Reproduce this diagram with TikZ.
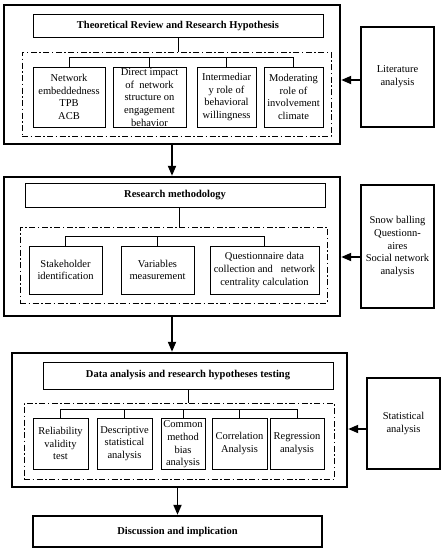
\documentclass[tikz,border=0pt]{standalone}
\usepackage{fontspec}
\setmainfont{Liberation Serif}
\usetikzlibrary{arrows.meta,calc}
\begin{document}
\begin{tikzpicture}[x=1pt,y=-1pt,
  every node/.style={font=\fontsize{10.5}{12.7}\selectfont, align=center, inner sep=0pt},
  outerbox/.style={draw, line width=2.4pt, minimum width=#1},
  titlebox/.style={draw, line width=0.8pt, font=\fontsize{10.5}{12.7}\selectfont\bfseries},
  subbox/.style={draw, line width=0.8pt},
  sidebox/.style={draw, line width=2.4pt, minimum width=73pt},
  ddbox/.style={draw, line width=0.8pt, dash pattern=on 6pt off 2.5pt on 1.5pt off 2.5pt},
  tree/.style={line width=0.8pt},
  arr/.style={line width=1.8pt, -{Triangle[length=10pt,width=8pt]}}
]
\useasboundingbox (0,0) rectangle (444,550);
% ---------- Block 1 ----------
\node[outerbox=336pt, minimum height=139pt] (b1) at (172,74.5) {};
\node[titlebox, minimum width=290pt, minimum height=23pt] (t1) at (178,25.5) {Theoretical Review and Research Hypothesis};
\node[ddbox, minimum width=309pt, minimum height=84pt] (d1) at (176.5,94) {};
\node[subbox, minimum width=72pt, minimum height=60pt] (s11) at (69,97) {Network\\embeddedness\\TPB\\ACB};
\node[subbox, minimum width=73pt, minimum height=60pt] (s12) at (149.5,97) {};
\node (s12t) at (149.5,97.5) {Direct impact\\of\ \ network\\structure on\\engagement\\behavior};
\node[subbox, minimum width=59pt, minimum height=60pt] (s13) at (226.5,97) {Intermediar\\y role of\\behavioral\\willingness};
\node[subbox, minimum width=59pt, minimum height=60pt] (s14) at (293.5,97) {Moderating\\role of\\involvement\\climate};
\coordinate (bar1) at (0,57);
\draw[tree] (t1.south) -- (t1.south |- d1.north);
\draw[tree] (s11.north |- bar1) -- (s14.north |- bar1);
\foreach \n in {s11,s12,s13,s14} \draw[tree] (\n.north |- bar1) -- (\n.north);
\node[sidebox, minimum height=100pt] (lit) at (397.5,77) {Literature\\analysis};
\draw[arr] ([yshift=-3pt]lit.west) -- ([yshift=-3pt]lit.west -| b1.east);
% ---------- Block 2 ----------
\node[outerbox=336pt, minimum height=139pt] (b2) at (172,246.5) {};
\node[titlebox, minimum width=300pt, minimum height=24pt] (t2) at (175,195) {Research methodology};
\node[ddbox, minimum width=307pt, minimum height=76pt] (d2) at (173.5,265) {};
\node[subbox, minimum width=73pt, minimum height=48pt] (s21) at (65.5,270) {Stakeholder\\identification};
\node[subbox, minimum width=73pt, minimum height=48pt] (s22) at (157.5,270) {Variables\\measurement};
\node[subbox, minimum width=109pt, minimum height=48pt] (s23) at (264.5,270) {Questionnaire data\\collection and\ \ \ network\\centrality calculation};
\coordinate (bar2) at (0,236);
\draw[tree] ([xshift=4pt]t2.south) -- ([xshift=4pt]t2.south |- d2.north);
\draw[tree] (s21.north |- bar2) -- (s23.north |- bar2);
\foreach \n in {s21,s22,s23} \draw[tree] (\n.north |- bar2) -- (\n.north);
\node[sidebox, minimum height=123pt] (snow) at (397.5,246.5) {Snow balling\\Questionn-\\aires\\Social network\\analysis};
\draw[arr] ([yshift=-10.5pt]snow.west) -- ([yshift=-10.5pt]snow.west -| b2.east);
\draw[arr] (b1.south) -- (b2.north);
% ---------- Block 3 ----------
\node[outerbox=335pt, minimum height=134pt] (b3) at (179.5,420) {};
\node[titlebox, minimum width=290pt, minimum height=27pt] (t3) at (188,375.5) {Data analysis and research hypotheses testing};
\node[ddbox, minimum width=310pt, minimum height=76pt] (d3) at (179,441) {};
\node[subbox, minimum width=55pt, minimum height=51pt] (s31) at (60.5,443.5) {Reliability\\validity\\test};
\node[subbox, minimum width=55pt, minimum height=51pt] (s32) at (124.5,443.5) {Descriptive\\statistical\\analysis};
\node[subbox, minimum width=44pt, minimum height=51pt] (s33) at (183,443.5) {};
\node (s33t) at (183,444.5) {Common\\method\\bias\\analysis};
\node[subbox, minimum width=55pt, minimum height=51pt] (s34) at (239.5,443.5) {Correlation\\Analysis};
\node[subbox, minimum width=54pt, minimum height=51pt] (s35) at (297,443.5) {Regression\\analysis};
\coordinate (bar3) at (0,409);
\draw[tree] (t3.south) -- (t3.south |- d3.north);
\draw[tree] (s31.north |- bar3) -- (s35.north |- bar3);
\foreach \n in {s31,s32,s33,s34,s35} \draw[tree] (\n.north |- bar3) -- (\n.north);
\node[sidebox, minimum height=91pt] (stat) at (403.5,423.5) {Statistical\\analysis};
\draw[arr] ([yshift=-5.5pt]stat.west) -- ([yshift=-5.5pt]stat.west -| b3.east);
\draw[arr] (b2.south) -- (b2.south |- b3.north);
% ---------- Block 4 ----------
\node[outerbox=289pt, minimum height=31pt, font=\fontsize{10.5}{12.7}\selectfont\bfseries] (b4) at (177.5,531.5) {Discussion and implication};
\draw[arr] (b3.south -| b4.north) -- (b4.north);
\end{tikzpicture}
\end{document}
